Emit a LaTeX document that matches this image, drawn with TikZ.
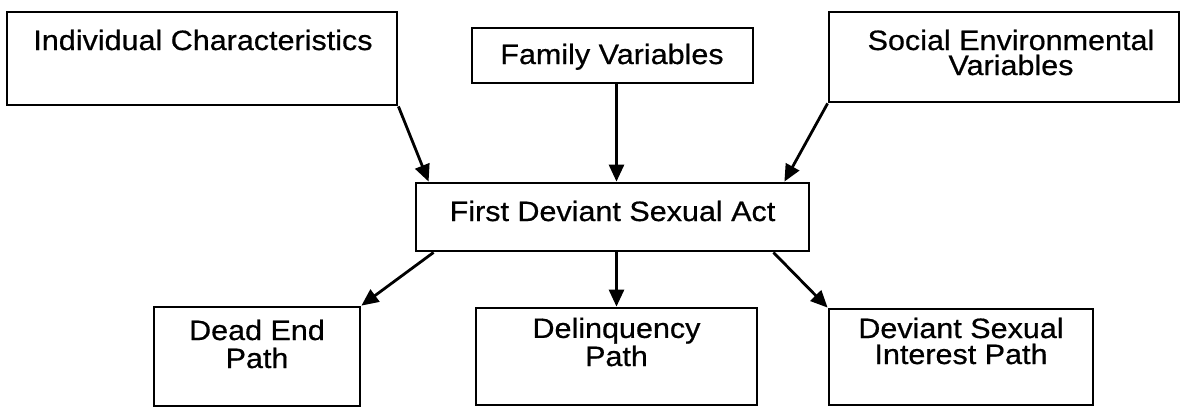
\documentclass[tikz,border=0pt]{standalone}
\usepackage{fontspec}
\setmainfont{Liberation Sans}[FakeStretch=1.09,FakeBold=0.6]
\usetikzlibrary{arrows.meta}
\begin{document}
\begin{tikzpicture}[x=0.5pt,y=-0.5pt,
  box/.style={draw, line width=1.4pt, inner sep=0pt, rectangle},
  lbl/.style={anchor=base, align=center, inner sep=0pt},
  arr/.style={-{Triangle[length=8.5pt,width=7.5pt]}, line width=1.4pt}]
\useasboundingbox (0,0) rectangle (1185,408);
% boxes
\node[box, minimum width=195pt, minimum height=46.5pt] (ind) at (202,58.5) {};
\node[box, minimum width=140.5pt, minimum height=27.5pt] (fam) at (612.5,55.5) {};
\node[box, minimum width=175pt, minimum height=45pt] (soc) at (1004,57) {};
\node[box, minimum width=196.5pt, minimum height=34pt] (cen) at (612.5,217) {};
\node[box, minimum width=103pt, minimum height=49.5pt] (dead) at (257,356.5) {};
\node[box, minimum width=140.5pt, minimum height=48.5pt] (del) at (616.5,356.5) {};
\node[box, minimum width=132pt, minimum height=48pt] (dev) at (961,357) {};
% labels (base = baseline of last line)
\node[lbl, font=\fontsize{14pt}{12.5pt}\selectfont] (tind) at (203,50) {Individual Characteristics};
\node[lbl, font=\fontsize{14pt}{12.5pt}\selectfont] (tfam) at (612,64) {Family Variables};
\node[lbl, font=\fontsize{14pt}{12.5pt}\selectfont] (tsoc) at (1011,75) {Social Environmental\\Variables};
\node[lbl, font=\fontsize{14pt}{12.5pt}\selectfont] (tcen) at (612.5,221) {First Deviant Sexual Act};
\node[lbl, font=\fontsize{14pt}{14pt}\selectfont] (tdead) at (257,368) {Dead End\\Path};
\node[lbl, font=\fontsize{14pt}{13pt}\selectfont] (tdel) at (616.5,366) {Delinquency\\Path};
\node[lbl, font=\fontsize{14pt}{13pt}\selectfont] (tdev) at (961,364) {Deviant Sexual\\Interest Path};
% connectors
\draw[arr] (ind.south east) -- ([xshift=7pt]cen.north west);
\draw[arr] ([xshift=2pt]fam.south) -- ([xshift=2pt]fam.south |- cen.north);
\draw[arr] (soc.south west) -- ([xshift=-13pt]cen.north east);
\draw[arr] ([xshift=9.5pt]cen.south west) -- (dead.north east);
\draw[arr] (cen.south -| del.north) -- (del.north);
\draw[arr] ([xshift=-18.5pt]cen.south east) -- (dev.north west);
\end{tikzpicture}
\end{document}
